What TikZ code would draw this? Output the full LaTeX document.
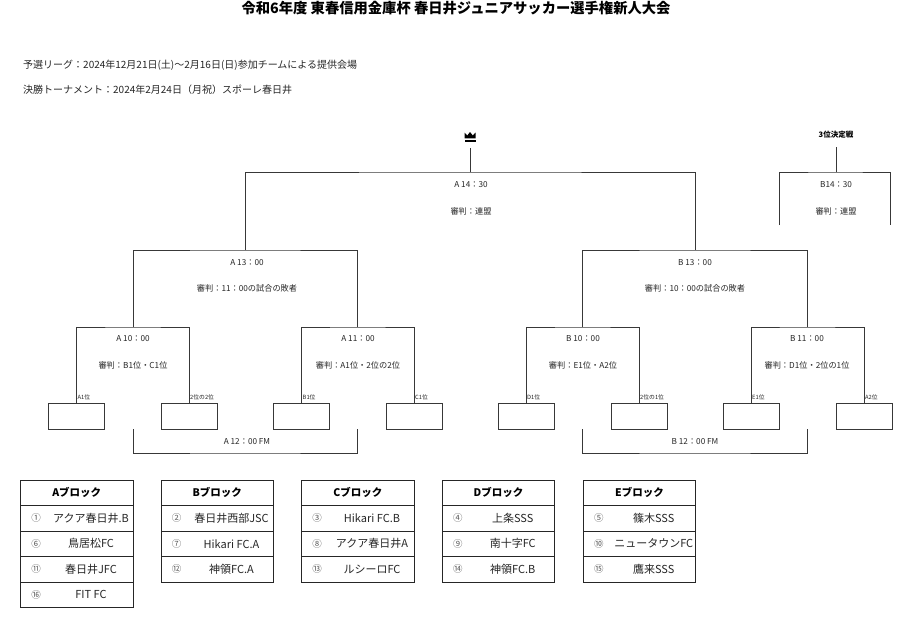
\documentclass[tikz,border=0pt]{standalone}
\usepackage{fontspec}
\setmainfont{Noto Sans CJK JP}
\begin{document}
\begin{tikzpicture}[x=1pt,y=-1pt,
  ln/.style={line width=0.9pt, draw=black!78},
  titlef/.style={font=\bfseries\fontsize{14.3}{16}\selectfont, inner sep=0pt},
  info/.style={font=\fontsize{10}{12}\selectfont, inner sep=0pt, anchor=west, text=black!85},
  lbl/.style={font=\fontsize{8.2}{9}\selectfont, inner sep=0pt, text=black!85},
  sm/.style={font=\fontsize{5.8}{6}\selectfont, inner sep=0pt, anchor=south west, text=black!85},
  slot/.style={draw=black!78, line width=0.9pt, minimum width=56pt, minimum height=26pt, inner sep=0pt},
  hdr/.style={draw=black!85, line width=1pt, minimum width=112.5pt, minimum height=25.5pt, inner sep=0pt, font=\bfseries\fontsize{10.5}{12}\selectfont},
  trow/.style={draw=black!85, line width=1pt, minimum width=112.5pt, minimum height=25.5pt, inner sep=0pt},
  num/.style={font=\fontsize{9.5}{10}\selectfont, text=black!65, inner sep=0pt},
  team/.style={font=\fontsize{11}{12}\selectfont, text=black!85, inner sep=0pt},
  bold3/.style={font=\bfseries\fontsize{7.5}{8}\selectfont, inner sep=0pt}
]
\useasboundingbox (0,0) rectangle (900,618);
\fill[white] (0,0) rectangle (900,618);

% header texts
\node[titlef] (title) at (456,8) {令和6年度 東春信用金庫杯 春日井ジュニアサッカー選手権新人大会};
\node[info] (info1) at (23,65) {予選リーグ：2024年12月21日(土)～2月16日(日)参加チームによる提供会場};
\node[info] (info2) at (23,90) {決勝トーナメント：2024年2月24日（月祝）スポーレ春日井};

% crown
\node[minimum width=11pt, minimum height=10pt, inner sep=0pt] (crown) at (470,137) {};
\begin{scope}[shift={(crown.center)}]
  \fill[black] (-5.5,-4.5) -- (-2.8,-1.5) -- (0,-5) -- (2.8,-1.5) -- (5.5,-4.5) -- (5.5,1.4) -- (-5.5,1.4) -- cycle;
  \fill[black] (-5.5,2.8) rectangle (5.5,5);
\end{scope}
\node[bold3] (third) at (836,135) {3位決定戦};

% slots
\node[slot] (a1) at (76.5,416) {};
\node[slot] (a2) at (189,416) {};
\node[slot] (a3) at (301.5,416) {};
\node[slot] (a4) at (414,416) {};
\node[slot] (b1) at (526,416) {};
\node[slot] (b2) at (639,416) {};
\node[slot] (b3) at (751,416) {};
\node[slot] (b4) at (864,416) {};

% bracket coordinates
\coordinate (qa1) at (133,327);
\coordinate (qa2) at (357.5,327);
\coordinate (qb1) at (582.5,327);
\coordinate (qb2) at (807,327);
\coordinate (sa) at (245,250);
\coordinate (sb) at (695,250);
\coordinate (fin) at (470,172);
\coordinate (tp) at (836,172);
\coordinate (tl) at (779,225);
\coordinate (tr) at (890,225);
\coordinate (fa1) at (133,429);
\coordinate (fa) at (245,453);
\coordinate (fa2) at (357.5,429);
\coordinate (fb1) at (582.5,429);
\coordinate (fb) at (695,453);
\coordinate (fb2) at (807,429);

% bracket lines
\draw[ln] (a1.north) |- (qa1) -| (a2.north);
\draw[ln] (a3.north) |- (qa2) -| (a4.north);
\draw[ln] (b1.north) |- (qb1) -| (b2.north);
\draw[ln] (b3.north) |- (qb2) -| (b4.north);
\draw[ln] (qa1) |- (sa) -| (qa2);
\draw[ln] (qb1) |- (sb) -| (qb2);
\draw[ln] (sa) |- (fin) -| (sb);
\draw[ln] (fin) -- ([yshift=-6pt]crown.south);
\draw[ln] (tl) |- (tp) -| (tr);
\draw[ln] (tp) -- ([yshift=-8pt]third.south);
\draw[ln] (fa1) |- (fa) -| (fa2);
\draw[ln] (fb1) |- (fb) -| (fb2);

% match labels
\node[lbl] (m1) at (471,185) {A 14：30};
\node[lbl] (r1) at (471,211) {審判：連盟};
\node[lbl] (m2) at (836,185) {B14：30};
\node[lbl] (r2) at (836,211) {審判：連盟};
\node[lbl] (m3) at (247,263) {A 13：00};
\node[lbl] (r3) at (247,288) {審判：11：00の試合の敗者};
\node[lbl] (m4) at (695,263) {B 13：00};
\node[lbl] (r4) at (695,288) {審判：10：00の試合の敗者};
\node[lbl] (m5) at (133,339) {A 10：00};
\node[lbl] (r5) at (133,365) {審判：B1位・C1位};
\node[lbl] (m6) at (358,339) {A 11：00};
\node[lbl] (r6) at (358,365) {審判：A1位・2位の2位};
\node[lbl] (m7) at (583,339) {B 10：00};
\node[lbl] (r7) at (583,365) {審判：E1位・A2位};
\node[lbl] (m8) at (807,339) {B 11：00};
\node[lbl] (r8) at (807,365) {審判：D1位・2位の1位};
\node[lbl] (fmA) at (247,442) {A 12：00 FM};
\node[lbl] (fmB) at (695,442) {B 12：00 FM};

% slot labels
\node[sm] (la1) at ([xshift=1pt,yshift=2pt]a1.north) {A1位};
\node[sm] (la2) at ([xshift=1pt,yshift=2pt]a2.north) {2位の2位};
\node[sm] (la3) at ([xshift=1pt,yshift=2pt]a3.north) {B1位};
\node[sm] (la4) at ([xshift=1pt,yshift=2pt]a4.north) {C1位};
\node[sm] (lb1) at ([xshift=1pt,yshift=2pt]b1.north) {D1位};
\node[sm] (lb2) at ([xshift=1pt,yshift=2pt]b2.north) {2位の1位};
\node[sm] (lb3) at ([xshift=1pt,yshift=2pt]b3.north) {E1位};
\node[sm] (lb4) at ([xshift=1pt,yshift=2pt]b4.north) {A2位};

% tables
% A
\node[hdr] (Ah) at (76.75,492.75) {Aブロック};
\node[trow] (A1) at (76.75,518.25) {};
\node[trow] (A2) at (76.75,543.75) {};
\node[trow] (A3) at (76.75,569.25) {};
\node[trow] (A4) at (76.75,594.75) {};
\node[num] (An1) at ([xshift=16pt]A1.west) {①};
\node[num] (An2) at ([xshift=16pt]A2.west) {⑥};
\node[num] (An3) at ([xshift=16pt]A3.west) {⑪};
\node[num] (An4) at ([xshift=16pt]A4.west) {⑯};
\node[team] (At1) at ([xshift=71pt]A1.west) {アクア春日井.B};
\node[team] (At2) at ([xshift=71pt]A2.west) {鳥居松FC};
\node[team] (At3) at ([xshift=71pt]A3.west) {春日井JFC};
\node[team] (At4) at ([xshift=71pt]A4.west) {FIT FC};
% B
\node[hdr] (Bh) at (217.25,492.75) {Bブロック};
\node[trow] (B1) at (217.25,518.25) {};
\node[trow] (B2) at (217.25,543.75) {};
\node[trow] (B3) at (217.25,569.25) {};
\node[num] (Bn1) at ([xshift=16pt]B1.west) {②};
\node[num] (Bn2) at ([xshift=16pt]B2.west) {⑦};
\node[num] (Bn3) at ([xshift=16pt]B3.west) {⑫};
\node[team] (Bt1) at ([xshift=71pt]B1.west) {春日井西部JSC};
\node[team] (Bt2) at ([xshift=71pt]B2.west) {Hikari FC.A};
\node[team] (Bt3) at ([xshift=71pt]B3.west) {神領FC.A};
% C
\node[hdr] (Ch) at (357.75,492.75) {Cブロック};
\node[trow] (C1) at (357.75,518.25) {};
\node[trow] (C2) at (357.75,543.75) {};
\node[trow] (C3) at (357.75,569.25) {};
\node[num] (Cn1) at ([xshift=16pt]C1.west) {③};
\node[num] (Cn2) at ([xshift=16pt]C2.west) {⑧};
\node[num] (Cn3) at ([xshift=16pt]C3.west) {⑬};
\node[team] (Ct1) at ([xshift=71pt]C1.west) {Hikari FC.B};
\node[team] (Ct2) at ([xshift=71pt]C2.west) {アクア春日井A};
\node[team] (Ct3) at ([xshift=71pt]C3.west) {ルシーロFC};
% D
\node[hdr] (Dh) at (498.5,492.75) {Dブロック};
\node[trow] (D1) at (498.5,518.25) {};
\node[trow] (D2) at (498.5,543.75) {};
\node[trow] (D3) at (498.5,569.25) {};
\node[num] (Dn1) at ([xshift=16pt]D1.west) {④};
\node[num] (Dn2) at ([xshift=16pt]D2.west) {⑨};
\node[num] (Dn3) at ([xshift=16pt]D3.west) {⑭};
\node[team] (Dt1) at ([xshift=71pt]D1.west) {上条SSS};
\node[team] (Dt2) at ([xshift=71pt]D2.west) {南十字FC};
\node[team] (Dt3) at ([xshift=71pt]D3.west) {神領FC.B};
% E
\node[hdr] (Eh) at (639.5,492.75) {Eブロック};
\node[trow] (E1) at (639.5,518.25) {};
\node[trow] (E2) at (639.5,543.75) {};
\node[trow] (E3) at (639.5,569.25) {};
\node[num] (En1) at ([xshift=16pt]E1.west) {⑤};
\node[num] (En2) at ([xshift=16pt]E2.west) {⑩};
\node[num] (En3) at ([xshift=16pt]E3.west) {⑮};
\node[team] (Et1) at ([xshift=71pt]E1.west) {篠木SSS};
\node[team] (Et2) at ([xshift=71pt]E2.west) {ニュータウンFC};
\node[team] (Et3) at ([xshift=71pt]E3.west) {鷹来SSS};
\end{tikzpicture}
\end{document}
